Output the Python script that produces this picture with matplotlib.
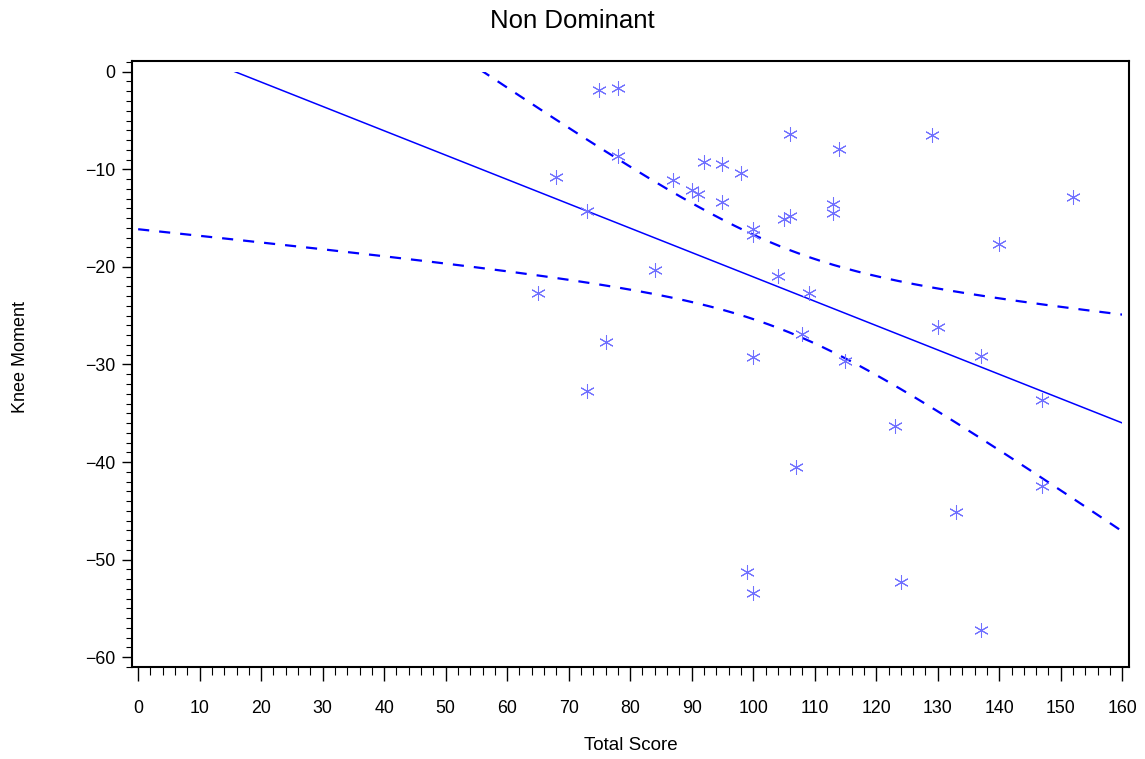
import numpy as np
import matplotlib
matplotlib.use("Agg")
import matplotlib.pyplot as plt
from matplotlib.patches import Rectangle
from matplotlib.ticker import MultipleLocator

plt.rcParams['font.family'] = ['Liberation Sans', 'DejaVu Sans']

# ---- data ----
total_score = [65, 68, 73, 73, 75, 76, 78, 78, 84, 87, 90, 91, 92, 95, 95, 98,
               100, 100, 99, 100, 100, 104, 105, 106, 106, 107, 108, 109, 113,
               113, 114, 115, 123, 124, 129, 130, 133, 137, 137, 140, 147, 147, 152]
knee_moment = [-22.7, -10.8, -14.3, -32.7, -1.9, -27.7, -1.7, -8.6, -20.3, -11.1,
               -12.1, -12.5, -9.2, -9.5, -13.4, -10.4, -16.1, -16.7, -51.3, -53.4,
               -29.2, -20.9, -15.1, -14.8, -6.4, -40.5, -26.9, -22.7, -13.6, -14.5,
               -7.9, -29.6, -36.3, -52.3, -6.5, -26.2, -45.1, -29.1, -57.2, -17.7,
               -33.6, -42.5, -12.8]
x_ticks = list(range(0, 161, 10))
y_ticks = list(range(-60, 1, 10))
title = "Non Dominant"
x_label = "Total Score"
y_label = "Knee Moment"

x = np.array(total_score, dtype=float)
y = np.array(knee_moment, dtype=float)

# linear regression with 95% confidence limits for the mean
n = len(x)
b1, b0 = np.polyfit(x, y, 1)
resid = y - (b0 + b1 * x)
s = np.sqrt(np.sum(resid ** 2) / (n - 2))
sxx = np.sum((x - x.mean()) ** 2)
t_crit = 2.0195  # t(0.975, 41)
xg = np.linspace(0, 160, 1601)
yfit = b0 + b1 * xg
half = t_crit * s * np.sqrt(1.0 / n + (xg - x.mean()) ** 2 / sxx)

W, H = 1145, 759
fig = plt.figure(figsize=(W / 100, H / 100), dpi=100)
L, R, T, B = 132, 1129, 61, 667
ax = fig.add_axes([L / W, 1 - B / H, (R - L) / W, (B - T) / H])

line_color = '#0000FF'
mark_color = '#7070FF'

clip = Rectangle((0, -100), 160, 100, transform=ax.transData)
l1, = ax.plot(xg, yfit, color=line_color, lw=1.1)
l2, = ax.plot(xg, yfit + half, color=line_color, lw=1.6, dashes=(5, 4.5))
l3, = ax.plot(xg, yfit - half, color=line_color, lw=1.6, dashes=(5, 4.5))
for ln in (l1, l2, l3):
    ln.set_clip_path(clip)

ax.scatter(x, y, marker=(6, 2, 0), s=100, color=mark_color, linewidths=0.75, zorder=3)

ax.set_xlim(-1.0, 161.1)
ax.set_ylim(-61.0, 1.1)
ax.set_xticks(x_ticks)
ax.set_yticks(y_ticks)
ax.set_xticklabels([str(v) for v in x_ticks])
ax.set_yticklabels([str(v).replace('-', '\u2212') for v in y_ticks])
ax.xaxis.set_minor_locator(MultipleLocator(2))
ax.yaxis.set_minor_locator(MultipleLocator(1))

ax.tick_params(axis='x', which='major', direction='out', length=10, width=1.0,
               pad=14, labelsize=12.8, top=False)
ax.tick_params(axis='x', which='minor', direction='out', length=6, width=0.8, top=False)
ax.tick_params(axis='y', which='major', direction='out', length=7, width=1.0,
               pad=5, labelsize=12.8, right=False)
ax.tick_params(axis='y', which='minor', direction='out', length=4, width=0.8, right=False)
for sp in ax.spines.values():
    sp.set_linewidth(1.5)

fig.text(0.5, 1 - 28 / H, title, ha='center', va='baseline', fontsize=18.5)
fig.text((L + R) / 2 / W, 1 - 750 / H, x_label, ha='center', va='baseline', fontsize=13.5)
fig.text(21 / W, 1 - 357 / H, y_label, ha='center', va='center', rotation=90, fontsize=13)

fig.savefig('out.png', dpi=100)
